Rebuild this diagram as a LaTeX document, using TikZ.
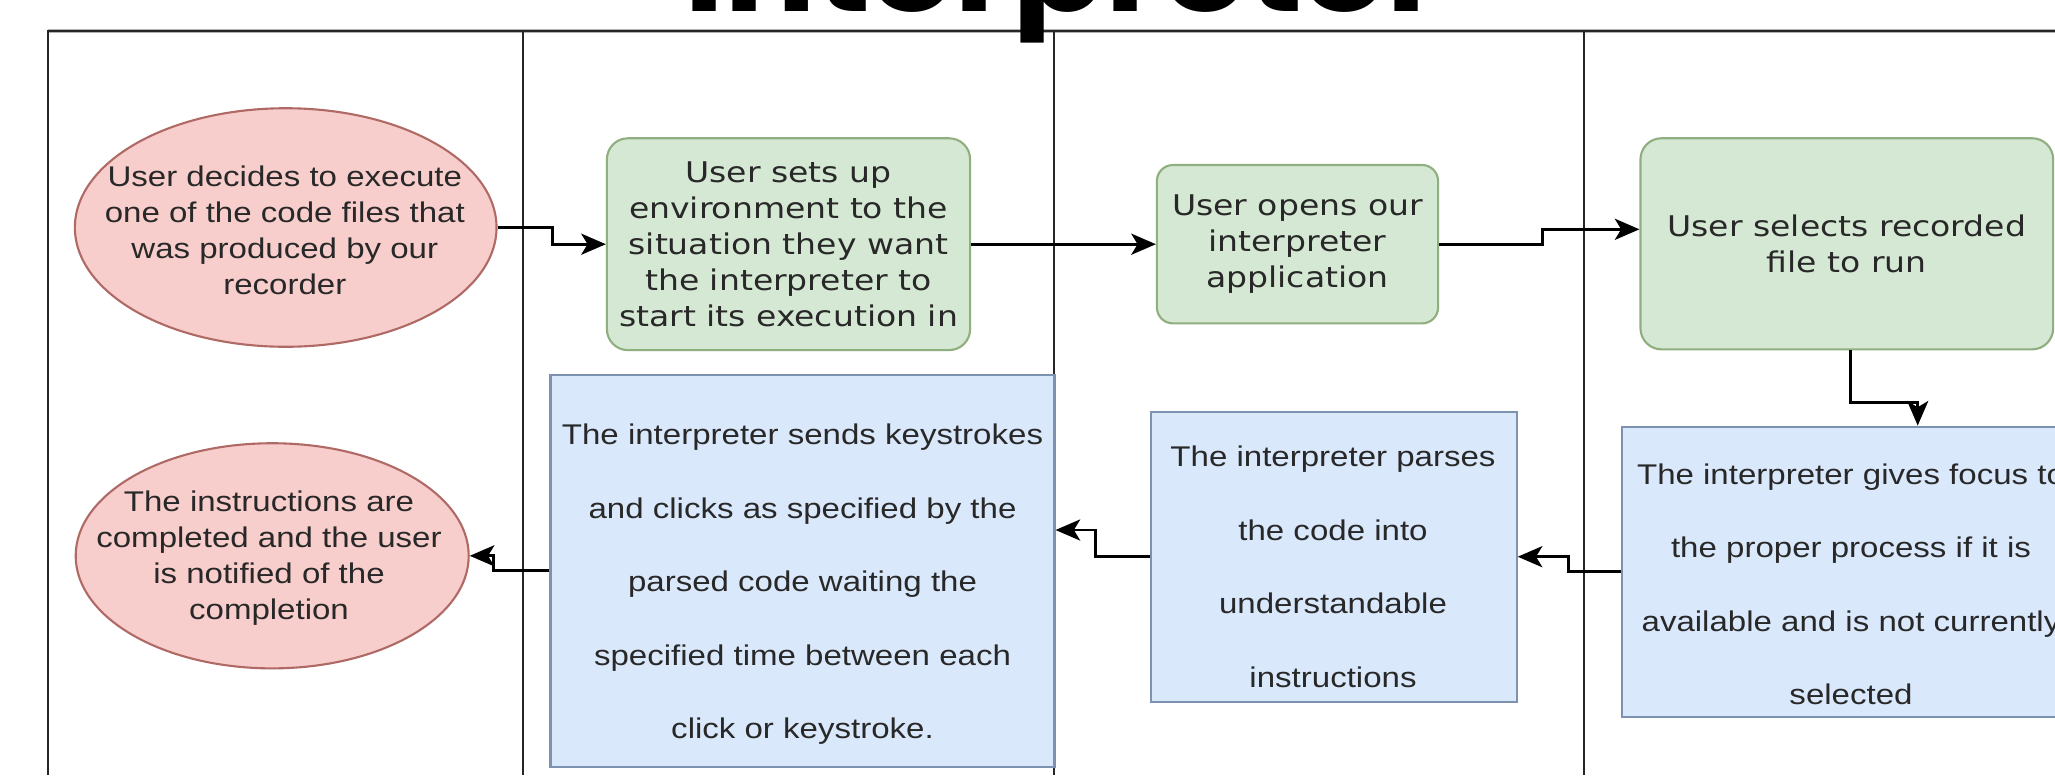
\documentclass[tikz,border=0pt]{standalone}
\usepackage{fontspec}
\usetikzlibrary{shapes.geometric,arrows.meta,calc}
\newfontfamily\arialx[FakeStretch=1.16]{Liberation Sans}
\newfontfamily\dejax[FakeStretch=1.16]{DejaVu Sans}
\newfontfamily\titlefont{Poppins}
\definecolor{gfill}{HTML}{D5E8D4}
\definecolor{gdraw}{HTML}{8FAF80}
\definecolor{bfill}{HTML}{DAE8FC}
\definecolor{bdraw}{HTML}{7D92B0}
\definecolor{pfill}{HTML}{F8CECC}
\definecolor{pdraw}{HTML}{B06A66}
\definecolor{txt}{HTML}{282828}
\newsavebox\ttlbox
\newlength\ttlw
\newlength\ttld
\tikzset{
  frame/.style={draw=black!85, line width=0.6pt},
  pinkell/.style={ellipse, draw=pdraw, fill=pfill, line width=0.6pt, inner sep=0pt},
  gbox/.style={rectangle, draw=gdraw, fill=gfill, line width=0.6pt, inner sep=0pt,
    align=center, text=txt, font=\dejax\fontsize{8.1pt}{10.2pt}\selectfont},
  bbox/.style={rectangle, draw=bdraw, fill=bfill, line width=0.6pt, inner sep=0pt},
  etext/.style={align=center, text=txt, inner sep=0pt, font=\arialx\fontsize{8.1pt}{10.25pt}\selectfont},
  btext/.style={align=center, text=txt, inner sep=0pt, font=\arialx\fontsize{8.1pt}{20.9pt}\selectfont},
  arr/.style={draw=black, line width=0.8pt, -{Stealth[length=7pt,width=6pt,inset=1.8pt]}}
}
\begin{document}
\sbox\ttlbox{\titlefont\bfseries Interpreter}%
\setlength\ttlw{\wd\ttlbox}%
\setlength\ttld{\dp\ttlbox}%
\pgfmathsetmacro\tsx{760*0.28453/\ttlw}%
\pgfmathsetmacro\tsy{31.6*0.28453/\ttld}%
\begin{tikzpicture}[x=0.01cm,y=-0.01cm]
\useasboundingbox (0,0) rectangle (2055,775);
\clip (0,0) rectangle (2055,775);
\fill[white] (0,0) rectangle (2055,775);
% swimlane frame
\draw[line width=1.4pt, black!30] (48,31) -- (2055,31);
\draw[frame] (48,775) -- (48,31) -- (2055,31);
\draw[frame] (523,31) -- (523,775);
\draw[frame] (1054,31) -- (1054,775);
\draw[frame] (1584,31) -- (1584,775);
% shapes
\node[pinkell, minimum width=4.214cm, minimum height=2.384cm] (e1) at (285.7,227.5) {};
\node[etext] (e1t) at (284.8,230.5) {User decides to execute\\one of the code files that\\was produced by our\\recorder};
\node[gbox, minimum width=3.63cm, minimum height=2.117cm, rounded corners=0.21cm] (g1) at (788.5,244.2)
  {User sets up\\environment to the\\situation they want\\the interpreter to\\start its execution in};
\node[gbox, minimum width=2.81cm, minimum height=1.583cm, rounded corners=0.16cm] (g2) at (1297.5,244.2)
  {User opens our\\interpreter\\application};
\node[gbox, minimum width=4.124cm, minimum height=2.11cm, rounded corners=0.21cm] (g3) at (1846.8,243.8)
  {User selects recorded\\file to run};
\node[bbox, minimum width=4.58cm, minimum height=2.9cm] (b3) at (1851,571.7) {};
\node[btext] (b3t) at (1851,584.2) {The interpreter gives focus to\\the proper process if it is\\available and is not currently\\selected};
\node[bbox, minimum width=3.651cm, minimum height=2.9cm] (b2) at (1334,556.7) {};
\node[btext] (b2t) at (1333,567) {The interpreter parses\\the code into\\understandable\\instructions};
\node[bbox, minimum width=5.037cm, minimum height=3.917cm] (b1) at (802.5,570.8) {};
\node[btext] (b1t) at (802.5,584.2) {The interpreter sends keystrokes\\and clicks as specified by the\\parsed code waiting the\\specified time between each\\click or keystroke.};
\node[pinkell, minimum width=3.928cm, minimum height=2.25cm] (e2) at (272.2,555.8) {};
\node[etext] (e2t) at (269,558.3) {The instructions are\\completed and the user\\is notified of the\\completion};
% connectors
\draw[arr] (e1.east) -- ++(55,0) |- (g1.west);
\draw[arr] (g1.east) -- (g2.west);
\draw[arr] (g2.east) -- ++(103,0) |- ($(g3.west)+(0,-14.5)$);
\draw[arr] ($(g3.south)+(4,0)$) -- ++(0,52.4) -| ($(b3.north)+(66.7,0)$);
\draw[arr] (b3.west) -- ++(-52,0) |- (b2.east);
\draw[arr] (b2.west) -- ++(-54.5,0) |- ($(b1.east)+(0,-40.8)$);
\draw[arr] (b1.west) -- ++(-56,0) |- (e2.east);
% title (cut off at the top)
\node[anchor=base west, inner sep=0pt, outer sep=0pt] (title) at (684,11.7) {\scalebox{\tsx}[\tsy]{\usebox\ttlbox}};
\end{tikzpicture}
\end{document}
